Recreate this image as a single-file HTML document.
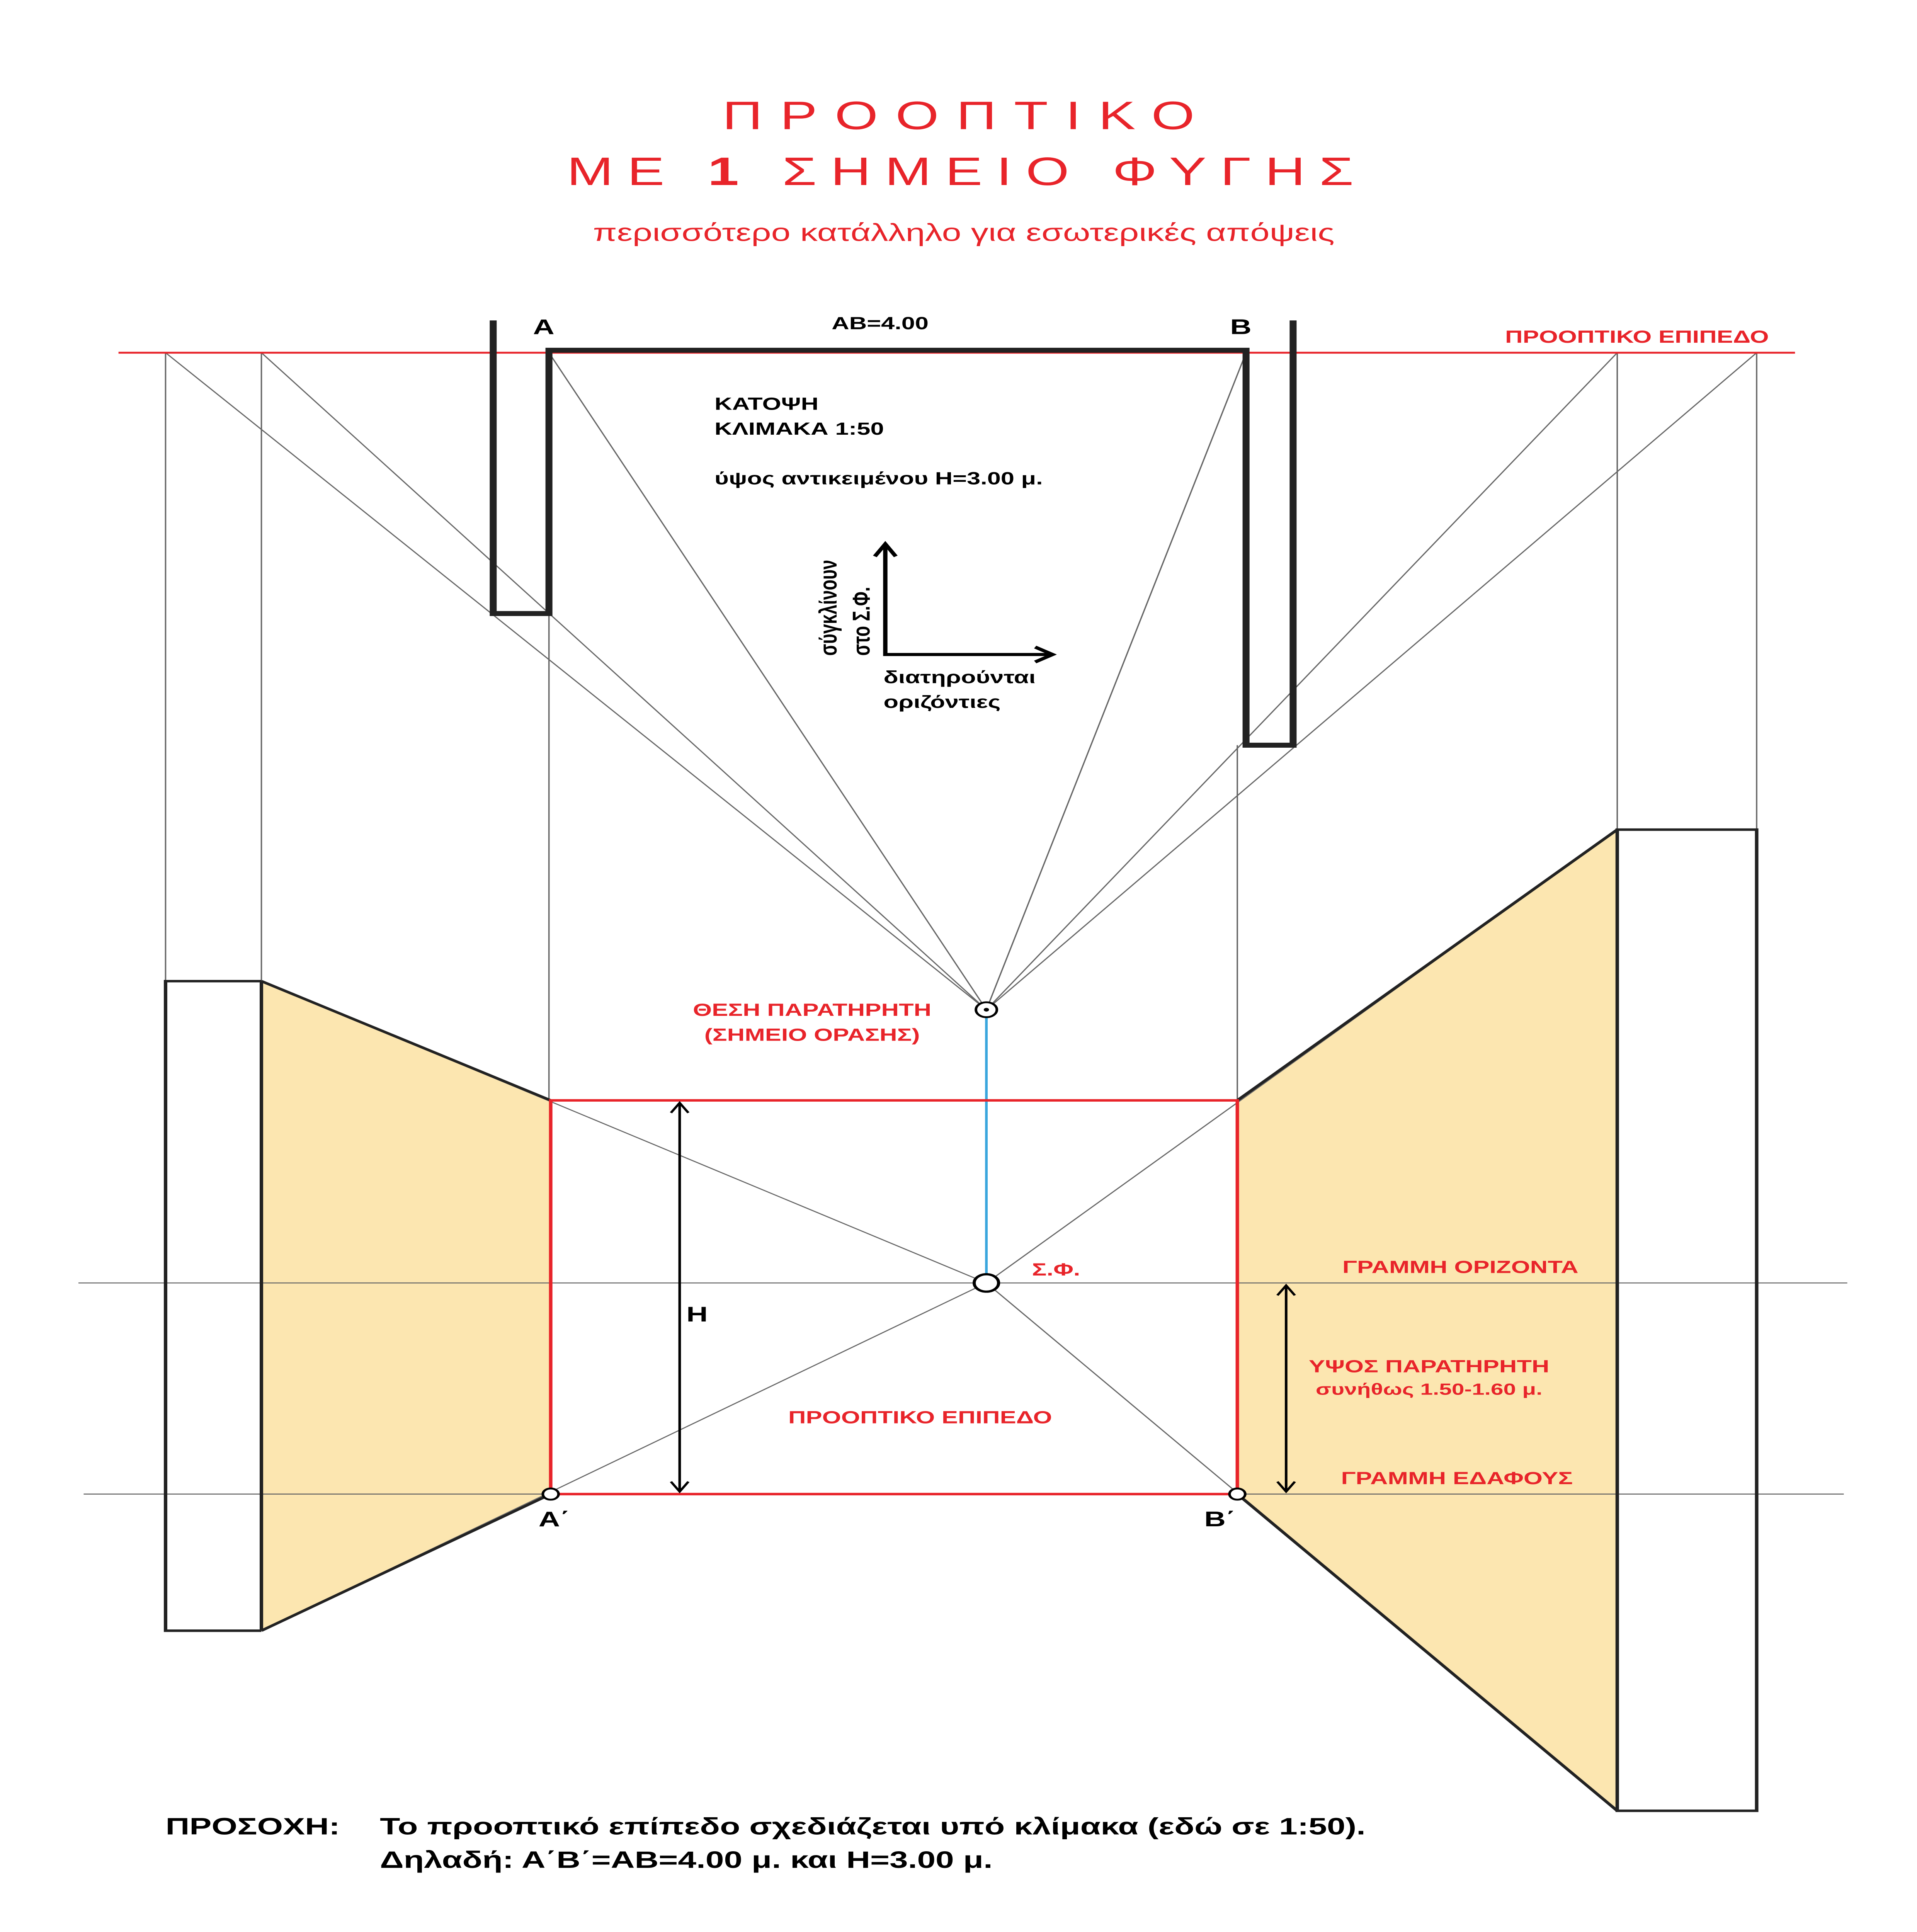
<!DOCTYPE html>
<html><head><meta charset="utf-8"><style>
html,body{margin:0;padding:0;background:#fff;overflow:hidden;width:100%;height:100%}
svg{display:block;width:100vw;height:100vh}
text{font-family:"Liberation Sans","DejaVu Sans",sans-serif}
</style></head><body>
<svg viewBox="0 0 1100 1555.6" preserveAspectRatio="none" xmlns="http://www.w3.org/2000/svg">
<rect width="1100" height="1556" fill="#fff"/>
<text x="555" y="104" text-anchor="middle" fill="#e8242a" font-size="32" letter-spacing="10">ΠΡΟΟΠΤΙΚΟ</text>
<text x="555" y="149" text-anchor="middle" fill="#e8242a" font-size="32" letter-spacing="8">ΜΕ <tspan font-weight="bold">1</tspan> ΣΗΜΕΙΟ ΦΥΓΗΣ</text>
<text x="553" y="194" text-anchor="middle" fill="#e8242a" font-size="20">περισσότερο κατάλληλο για εσωτερικές απόψεις</text>

<polygon points="150,790 316,886 316,1203 150,1313" fill="#fce6b0"/>
<polygon points="710,886 928,668 928,1458 710,1203" fill="#fce6b0"/>

<g stroke="#666" stroke-width="0.8" fill="none">
<line x1="95" y1="284" x2="566" y2="813"/>
<line x1="150" y1="284" x2="566" y2="813"/>
<line x1="315" y1="284" x2="566" y2="813"/>
<line x1="715" y1="284" x2="566" y2="813"/>
<line x1="928" y1="284" x2="566" y2="813"/>
<line x1="1008" y1="284" x2="566" y2="813"/>
<line x1="95" y1="284" x2="95" y2="790"/>
<line x1="150" y1="284" x2="150" y2="790"/>
<line x1="315" y1="494" x2="315" y2="886"/>
<line x1="710" y1="600" x2="710" y2="886"/>
<line x1="928" y1="284" x2="928" y2="668"/>
<line x1="1008" y1="284" x2="1008" y2="668"/>
<line x1="45" y1="1033" x2="1060" y2="1033"/>
<line x1="48" y1="1203" x2="1058" y2="1203"/>
<line x1="150" y1="790" x2="566" y2="1033"/>
<line x1="150" y1="1313" x2="566" y2="1033"/>
<line x1="928" y1="668" x2="566" y2="1033"/>
<line x1="928" y1="1458" x2="566" y2="1033"/>
</g>
<g stroke="#222" stroke-width="2" fill="none">
<polyline points="150,790 95,790 95,1313 150,1313"/>
<line x1="150" y1="790" x2="150" y2="1313"/>
<line x1="150" y1="790" x2="316" y2="886"/>
<line x1="150" y1="1313" x2="316" y2="1203"/>
<rect x="928" y="668" width="80" height="790"/>
<line x1="928" y1="668" x2="710" y2="886"/>
<line x1="928" y1="1458" x2="710" y2="1203"/>
</g>

<line x1="68" y1="284" x2="1030" y2="284" stroke="#e8242a" stroke-width="1.5"/>
<text x="1015" y="276" text-anchor="end" fill="#e8242a" font-size="14" font-weight="bold">ΠΡΟΟΠΤΙΚΟ ΕΠΙΠΕΔΟ</text>

<g stroke="#222" stroke-width="4" fill="none">
<polyline points="283,258 283,494 315,494 315,282 715,282 715,600 742,600 742,258"/>
</g>
<text x="312" y="269" text-anchor="middle" font-size="17" font-weight="bold">A</text>
<text x="712" y="269" text-anchor="middle" font-size="17" font-weight="bold">B</text>
<text x="505" y="265" text-anchor="middle" font-size="14" font-weight="bold">AB=4.00</text>
<text x="410" y="330" font-size="14" font-weight="bold">ΚΑΤΟΨΗ</text>
<text x="410" y="350" font-size="14" font-weight="bold">ΚΛΙΜΑΚΑ 1:50</text>
<text x="410" y="390" font-size="14" font-weight="bold">ύψος αντικειμένου H=3.00 μ.</text>
<g stroke="#000" stroke-width="2.5" fill="none">
<polyline points="508,440 508,527 602,527"/>
<polyline points="502,448 508,438 514,448"/>
<polyline points="594,521 604,527 594,533"/>
</g>
<text transform="translate(480,528) rotate(-90)" font-size="14" font-weight="bold">σύγκλίνουν</text>
<text transform="translate(499,528) rotate(-90)" font-size="14" font-weight="bold">στο Σ.Φ.</text>
<text x="507" y="550" font-size="14" font-weight="bold">διατηρούνται</text>
<text x="507" y="570" font-size="14" font-weight="bold">οριζόντιες</text>

<line x1="566" y1="813" x2="566" y2="1033" stroke="#3aa6dd" stroke-width="1.5"/>
<circle cx="566" cy="813" r="6" fill="#fff" stroke="#000" stroke-width="1.5"/>
<circle cx="566" cy="813" r="1.5" fill="#000"/>
<text x="466" y="818" text-anchor="middle" fill="#e8242a" font-size="14" font-weight="bold">ΘΕΣΗ ΠΑΡΑΤΗΡΗΤΗ</text>
<text x="466" y="838" text-anchor="middle" fill="#e8242a" font-size="14" font-weight="bold">(ΣΗΜΕΙΟ ΟΡΑΣΗΣ)</text>

<rect x="316" y="886" width="394" height="317" fill="none" stroke="#e8242a" stroke-width="2"/>
<circle cx="566" cy="1033" r="7" fill="#fff" stroke="#000" stroke-width="1.8"/>
<circle cx="316" cy="1203" r="4.5" fill="#fff" stroke="#000" stroke-width="1.5"/>
<circle cx="710" cy="1203" r="4.5" fill="#fff" stroke="#000" stroke-width="1.5"/>
<text x="606" y="1027" text-anchor="middle" fill="#e8242a" font-size="14" font-weight="bold">Σ.Φ.</text>
<text x="528" y="1146" text-anchor="middle" fill="#e8242a" font-size="14" font-weight="bold">ΠΡΟΟΠΤΙΚΟ ΕΠΙΠΕΔΟ</text>
<text x="318" y="1229" text-anchor="middle" font-size="17" font-weight="bold">A΄</text>
<text x="700" y="1229" text-anchor="middle" font-size="17" font-weight="bold">B΄</text>

<g stroke="#000" stroke-width="1.5" fill="none">
<line x1="390" y1="888" x2="390" y2="1201"/>
<polyline points="385,896 390,888 395,896"/>
<polyline points="385,1193 390,1201 395,1193"/>
<line x1="738" y1="1035" x2="738" y2="1201"/>
<polyline points="733,1043 738,1035 743,1043"/>
<polyline points="733,1193 738,1201 743,1193"/>
</g>
<text x="400" y="1064" text-anchor="middle" font-size="17" font-weight="bold">H</text>
<text x="838" y="1025" text-anchor="middle" fill="#e8242a" font-size="14" font-weight="bold">ΓΡΑΜΜΗ ΟΡΙΖΟΝΤΑ</text>
<text x="820" y="1105" text-anchor="middle" fill="#e8242a" font-size="14" font-weight="bold">ΥΨΟΣ ΠΑΡΑΤΗΡΗΤΗ</text>
<text x="820" y="1123" text-anchor="middle" fill="#e8242a" font-size="13" font-weight="bold">συνήθως 1.50-1.60 μ.</text>
<text x="836" y="1195" text-anchor="middle" fill="#e8242a" font-size="14" font-weight="bold">ΓΡΑΜΜΗ ΕΔΑΦΟΥΣ</text>

<text x="95" y="1477" font-size="19" font-weight="bold">ΠΡΟΣΟΧΗ:</text>
<text x="218" y="1477" font-size="19" font-weight="bold">Το προοπτικό επίπεδο σχεδιάζεται υπό κλίμακα (εδώ σε 1:50).</text>
<text x="218" y="1504" font-size="19" font-weight="bold">Δηλαδή: Α΄Β΄=ΑΒ=4.00 μ. και Η=3.00 μ.</text>
</svg>
</body></html>
